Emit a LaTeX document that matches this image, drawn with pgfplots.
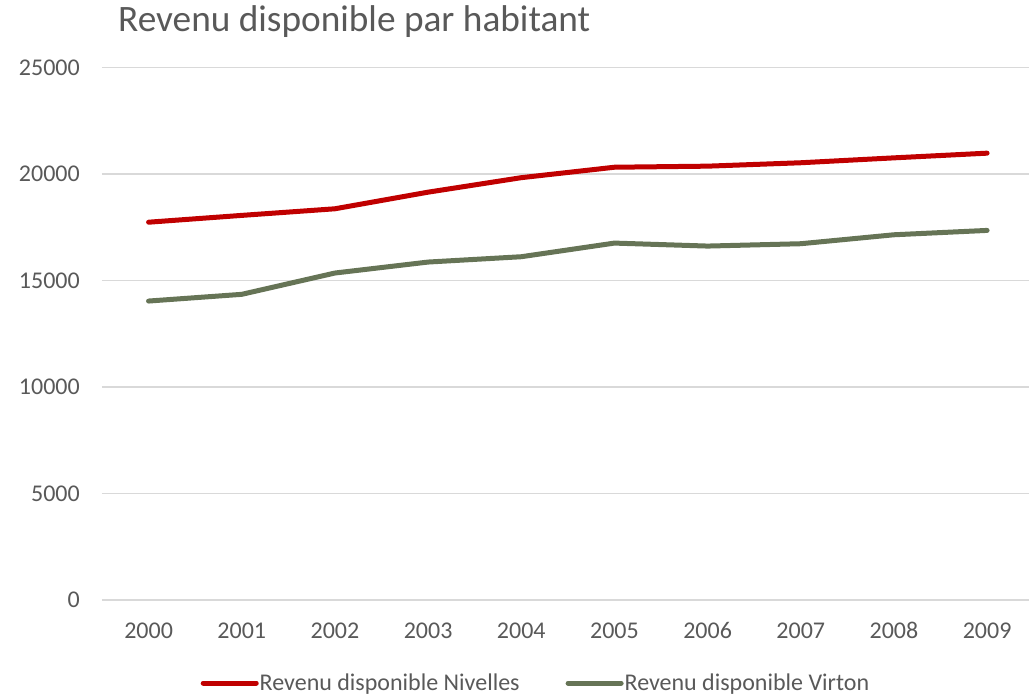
\documentclass[border=0pt]{standalone}
\usepackage{fontspec}
\setmainfont{Carlito}
\usepackage{pgfplots}
\pgfplotsset{compat=1.18}
\definecolor{txt}{HTML}{595959}
\definecolor{gridc}{HTML}{D9D9D9}
\definecolor{red1}{HTML}{C00000}
\definecolor{green1}{RGB}{102,116,86}
\begin{document}
\begin{tikzpicture}
\path[use as bounding box] (0,0) rectangle (1029pt,697pt);
\begin{axis}[
  at={(102pt,97pt)}, anchor=south west,
  scale only axis, width=927pt, height=532.7pt,
  xmin=-0.5, xmax=9.45, ymin=0, ymax=25000,
  xtick={0,...,9},
  xticklabels={2000,2001,2002,2003,2004,2005,2006,2007,2008,2009},
  ytick={0,5000,10000,15000,20000,25000},
  /pgf/number format/assume math mode=true,
  scaled y ticks=false,
  yticklabel={\pgfmathprintnumber[fixed,1000 sep={}]{\tick}},
  xmajorgrids=false, ymajorgrids=true,
  major grid style={draw=gridc, line width=1.5pt},
  axis line style={draw=none},
  tick style={draw=none},
  major tick length=0pt,
  tick label style={font=\fontsize{24}{28}\selectfont, text=txt, inner sep=0pt},
  yticklabel style={anchor=east, xshift=-22pt},
  xticklabel style={anchor=north, text height=15.5pt, yshift=-23pt},
  legend style={at={(0.4676,-0.156)}, anchor=center, draw=none, fill=none,
    font=\fontsize{24}{28}\selectfont, text=txt, legend columns=2,
    nodes={inner sep=1pt},
    /tikz/every even column/.append style={column sep=45pt}, inner sep=0pt},
  legend image code/.code={\draw[#1, line width=5pt, line cap=round] (0pt,0pt) -- (53pt,0pt);},
  clip=false,
]
\addplot[red1, line width=5pt, line cap=round, line join=round] coordinates {
 (0,17730) (1,18050) (2,18360) (3,19140) (4,19820) (5,20310) (6,20360) (7,20520) (8,20750) (9,20970)};
\addlegendentry{Revenu disponible Nivelles}
\addplot[green1, line width=5pt, line cap=round, line join=round] coordinates {
 (0,14030) (1,14345) (2,15345) (3,15860) (4,16110) (5,16750) (6,16610) (7,16720) (8,17140) (9,17345)};
\addlegendentry{Revenu disponible Virton}
\end{axis}
\node[anchor=west, inner sep=0pt, text=txt, font=\fontsize{37.3}{42}\selectfont] at (118pt,675pt) {Revenu disponible par habitant};
\end{tikzpicture}
\end{document}
